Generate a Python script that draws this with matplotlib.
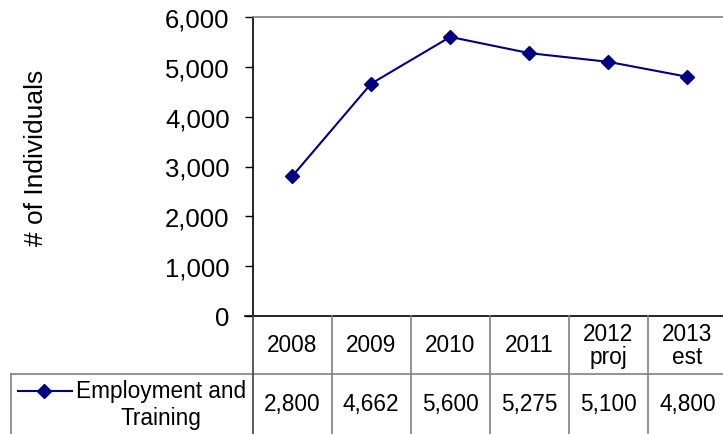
import matplotlib
matplotlib.use("Agg")
import matplotlib.pyplot as plt
from matplotlib.lines import Line2D
from matplotlib.transforms import blended_transform_factory

plt.rcParams['font.family'] = ['Liberation Sans', 'DejaVu Sans']

categories = ["2008", "2009", "2010", "2011", "2012\nproj", "2013\nest"]
series_name = "Employment and\nTraining"
values = [2800, 4662, 5600, 5275, 5100, 4800]
yticks = [0, 1000, 2000, 3000, 4000, 5000, 6000]

W, H = 723, 435
fig = plt.figure(figsize=(W / 100, H / 100), dpi=100)

# pixel layout
left_px, right_px, top_px, bot_px = 252.5, 727, 18, 317
ax = fig.add_axes([left_px / W, 1 - bot_px / H, (right_px - left_px) / W, (bot_px - top_px) / H])
navy = "#000080"
x = list(range(len(values)))
ax.plot(x, values, color=navy, lw=1.5, marker="D", ms=7, mec=navy, mfc=navy, clip_on=False)
ax.set_xlim(-0.5, len(values) - 0.5)
ax.set_ylim(0, 6000)
ax.set_yticks(yticks)
ax.set_yticklabels([f"{v:,}" for v in yticks], fontsize=18.5)
ax.set_xticks([])
ax.tick_params(axis="y", direction="out", length=5.5, width=1, pad=11, colors="black")
ax.spines["right"].set_visible(False)
ax.spines["top"].set_color("#808080")
ax.spines["top"].set_linewidth(1.2)
ax.spines["left"].set_linewidth(1.2)
ax.spines["bottom"].set_linewidth(1.2)
ax.set_ylabel("# of Individuals", fontsize=19)
lab_x = (36 - left_px) / (right_px - left_px)
lab_y = (bot_px - 158) / (bot_px - top_px)
ax.yaxis.set_label_coords(lab_x, lab_y)
ax.yaxis.label.set_va("center")

# table drawn with x in data coords, y in figure pixels
trans = blended_transform_factory(ax.transData, fig.transFigure)
def fy(py):
    return 1 - py / H

grey = "#808080"
hdr_top, hdr_bot, row_bot = 317, 375, 436
fig.add_artist(Line2D([11 / W, 1], [fy(hdr_bot)] * 2, color=grey, lw=1.2, transform=fig.transFigure))
fig.add_artist(Line2D([11 / W] * 2, [fy(hdr_bot), fy(row_bot)], color=grey, lw=1.2, transform=fig.transFigure))
fig.add_artist(Line2D([245 / W, left_px / W], [fy(bot_px)] * 2, color="black", lw=1.2, transform=fig.transFigure))
for i in range(len(values) + 1):
    xb = i - 0.5
    fig.add_artist(Line2D([xb, xb], [fy(hdr_top), fy(row_bot)], color=grey if i else "#404040", lw=1.2, transform=trans))

for i, (c, v) in enumerate(zip(categories, values)):
    ax.text(i, fy(346), c, transform=trans, ha="center", va="center",
            fontsize=16.3, linespacing=1.05)
    ax.text(i, fy(405), f"{v:,}", transform=trans, ha="center", va="center",
            fontsize=16.3)

# legend key in the table
fig.add_artist(Line2D([18 / W, 72 / W], [fy(392)] * 2, color=navy, lw=1.5, transform=fig.transFigure))
fig.add_artist(Line2D([44 / W], [fy(392)], color=navy, marker="D", ms=7, lw=0, transform=fig.transFigure))
fig.text(161 / W, fy(405), series_name, ha="center", va="center", fontsize=16.3, linespacing=1.18)

fig.savefig("out.png", dpi=100)
